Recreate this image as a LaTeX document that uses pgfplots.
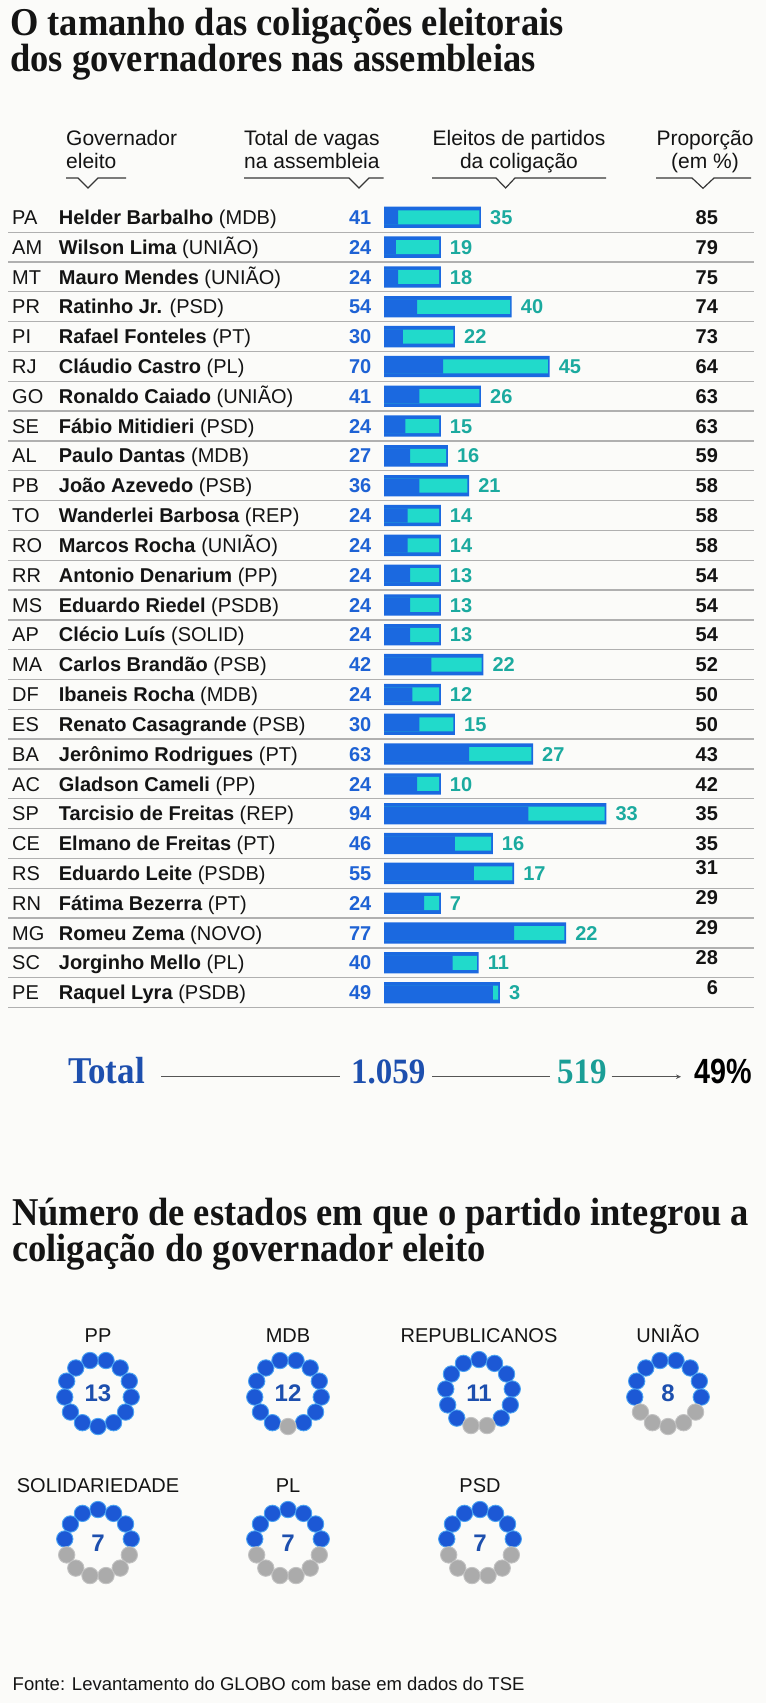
\documentclass[border=0pt]{standalone}
\usepackage{fontspec}
\setmainfont{Liberation Sans}
\newfontfamily\serif{Liberation Serif}
\usepackage{graphicx}
\usepackage{pgfplots}
\pgfplotsset{compat=1.18}
\usepackage{pgfplotstable}
\usetikzlibrary{arrows.meta}

\definecolor{bg}{HTML}{FBFBF9}
\definecolor{barblue}{HTML}{1B69E0}
\definecolor{barteal}{HTML}{21DACB}
\definecolor{numblue}{HTML}{1E62D4}
\definecolor{numteal}{HTML}{1BAA9F}
\definecolor{totblue}{HTML}{1D4FAE}
\definecolor{totteal}{HTML}{1A9E96}
\definecolor{dotblue}{HTML}{1C58D5}
\definecolor{dotedge}{HTML}{4AA3F2}
\definecolor{dotgray}{HTML}{ABABAB}
\definecolor{dotgrayedge}{HTML}{C2C2C2}
\definecolor{sepgray}{HTML}{B0B0B0}
\definecolor{ink}{HTML}{141414}
\definecolor{linegray}{HTML}{555555}

\newcommand\fs[1]{\fontsize{#1bp}{#1bp}\selectfont}
\newcommand\st[1]{\makebox[46.7bp][l]{#1}}
\newcommand\ttl[1]{\scalebox{1}[1.08]{\serif\bfseries\fs{36.5}#1}}

\pgfplotstableread{
row total elected pct
0 41 35 85
1 24 19 79
2 24 18 75
3 54 40 74
4 30 22 73
5 70 45 64
6 41 26 63
7 24 15 63
8 27 16 59
9 36 21 58
10 24 14 58
11 24 14 58
12 24 13 54
13 24 13 54
14 24 13 54
15 42 22 52
16 24 12 50
17 30 15 50
18 63 27 43
19 24 10 42
20 94 33 35
21 46 16 35
22 55 17 31
23 24 7 29
24 77 22 29
25 40 11 28
26 49 3 6
}\govdata

\pgfplotstableread{
name cx cy n
PP 98 1393 13
MDB 288 1393 12
REPUBLICANOS 479 1393 11
UNIÃO 668 1393 8
SOLIDARIEDADE 98 1543 7
PL 288 1543 7
PSD 480 1543 7
}\parties

% dot angles, ordered from the top of the ring downwards
\pgfplotstableread{
k a
0 76.154
1 103.846
2 48.462
3 131.538
4 20.769
5 159.231
6 -6.923
7 186.923
8 -34.615
9 214.615
10 -62.308
11 242.308
12 -90
}\ringEven

\pgfplotstableread{
k a
0 90
1 62.308
2 117.692
3 34.615
4 145.385
5 6.923
6 173.077
7 -20.769
8 200.769
9 -48.462
10 228.462
11 -76.154
12 256.154
}\ringOdd

\pgfplotsset{
  bdot/.style={only marks, mark=*, mark size=8.2bp, mark options={fill=dotblue, draw=dotedge, line width=0.9bp}},
  gdot/.style={only marks, mark=*, mark size=8.2bp, mark options={fill=dotgray, draw=dotgrayedge, line width=0.9bp}},
}

\begin{document}
\begin{tikzpicture}[x=1bp,y=1bp]
\path[use as bounding box, fill=bg] (0,0) rectangle (766,-1703);

% title
\node[anchor=base west, inner sep=0, text=ink] at (10,-35) {\ttl{O tamanho das coligações eleitorais}};
\node[anchor=base west, inner sep=0, text=ink] at (10,-71) {\ttl{dos governadores nas assembleias}};

% column headers
\begin{scope}[every node/.style={inner sep=0, text=ink, font=\fs{21}}]
\node[anchor=base west] at (66,-145) {Governador};
\node[anchor=base west] at (66,-168) {eleito};
\node[anchor=base west] at (244,-145) {Total de vagas};
\node[anchor=base west] at (244,-168) {na assembleia};
\node[anchor=base] at (519,-145) {Eleitos de partidos};
\node[anchor=base] at (519,-168) {da coligação};
\node[anchor=base] at (705,-145) {Proporção};
\node[anchor=base] at (705,-168) {(em \%)};
\end{scope}
\begin{scope}[line width=1.2bp, draw=ink!85]
\draw (66,-178) -- (78,-178) -- (88,-188) -- (98,-178) -- (126,-178);
\draw (244,-178) -- (349,-178) -- (359,-188) -- (369,-178) -- (383.5,-178);
\draw (432,-178) -- (496,-178) -- (505.6,-188) -- (515,-178) -- (606,-178);
\draw (656,-178) -- (692,-178) -- (703,-188.3) -- (714,-178) -- (751,-178);
\end{scope}

% row separators
\foreach \i in {0,...,26}
  \draw[sepgray, line width=1.3bp] (8,{-(232.2+29.82*\i)}) -- (754,{-(232.2+29.82*\i)});

\begin{axis}[
  at={(384bp,-202.4bp)}, anchor=north west,
  scale only axis, width=236.5bp, height=805.14bp,
  xmin=0, xmax=100, ymin=-0.5, ymax=26.5, y dir=reverse,
  clip=false,
  /pgf/number format/assume math mode=true,
  axis line style={draw=none}, major tick length=0pt,
  xtick=\empty, ytick={0,...,26},
  yticklabels={
    {\st{PA}\textbf{Helder Barbalho} (MDB)},
    {\st{AM}\textbf{Wilson Lima} (UNIÃO)},
    {\st{MT}\textbf{Mauro Mendes} (UNIÃO)},
    {\st{PR}\textbf{Ratinho Jr.} (PSD)},
    {\st{PI}\textbf{Rafael Fonteles} (PT)},
    {\st{RJ}\textbf{Cláudio Castro} (PL)},
    {\st{GO}\textbf{Ronaldo Caiado} (UNIÃO)},
    {\st{SE}\textbf{Fábio Mitidieri} (PSD)},
    {\st{AL}\textbf{Paulo Dantas} (MDB)},
    {\st{PB}\textbf{João Azevedo} (PSB)},
    {\st{TO}\textbf{Wanderlei Barbosa} (REP)},
    {\st{RO}\textbf{Marcos Rocha} (UNIÃO)},
    {\st{RR}\textbf{Antonio Denarium} (PP)},
    {\st{MS}\textbf{Eduardo Riedel} (PSDB)},
    {\st{AP}\textbf{Clécio Luís} (SOLID)},
    {\st{MA}\textbf{Carlos Brandão} (PSB)},
    {\st{DF}\textbf{Ibaneis Rocha} (MDB)},
    {\st{ES}\textbf{Renato Casagrande} (PSB)},
    {\st{BA}\textbf{Jerônimo Rodrigues} (PT)},
    {\st{AC}\textbf{Gladson Cameli} (PP)},
    {\st{SP}\textbf{Tarcisio de Freitas} (REP)},
    {\st{CE}\textbf{Elmano de Freitas} (PT)},
    {\st{RS}\textbf{Eduardo Leite} (PSDB)},
    {\st{RN}\textbf{Fátima Bezerra} (PT)},
    {\st{MG}\textbf{Romeu Zema} (NOVO)},
    {\st{SC}\textbf{Jorginho Mello} (PL)},
    {\st{PE}\textbf{Raquel Lyra} (PSDB)}
  },
  yticklabel style={anchor=base west, inner sep=0pt, xshift=-372bp, yshift=-7.1bp, font=\fs{20}, text=ink},
]
% total seats
\addplot[xbar, bar shift=0pt, bar width=21.3bp, fill=barblue, draw=none]
  table[x=total, y=row] {\govdata};
% elected (teal), right-aligned inside the blue bar
\addplot[xbar, bar shift=0pt, bar width=14bp, fill=barteal, draw=none]
  table[x expr=\thisrow{total}-0.7, y=row] {\govdata};
\addplot[xbar, bar shift=0pt, bar width=14.4bp, fill=barblue, draw=none]
  table[x expr=\thisrow{total}-\thisrow{elected}, y=row] {\govdata};
% labels
\addplot[draw=none, mark=none, point meta=explicit, nodes near coords,
  nodes near coords style={anchor=base east, inner sep=0pt, xshift=-12.5bp, yshift=-7.1bp, font=\fs{20}\bfseries, text=numblue}]
  table[x expr=0, y=row, meta=total] {\govdata};
\addplot[draw=none, mark=none, point meta=explicit, nodes near coords,
  nodes near coords style={anchor=base west, inner sep=0pt, xshift=9bp, yshift=-7.1bp, font=\fs{20}\bfseries, text=numteal}]
  table[x=total, y=row, meta=elected] {\govdata};
\addplot[draw=none, mark=none, point meta=explicit, nodes near coords,
  nodes near coords style={anchor=base east, inner sep=0pt, yshift=-7.1bp, font=\fs{20}\bfseries, text=ink}]
  table[x expr=141.3, y expr={\thisrow{row}-(\thisrow{row}>21)*0.19}, meta=pct] {\govdata};
\end{axis}

% total line
\node[anchor=base west, inner sep=0, text=totblue] at (68,-1083) {\scalebox{1}[1.08]{\serif\bfseries\fs{35}Total}};
\draw[linegray, line width=1.1bp] (161,-1076.7) -- (340,-1076.7);
\node[anchor=base west, inner sep=0, text=totblue] at (351,-1083) {\scalebox{1}[1.08]{\serif\bfseries\fs{33}1.059}};
\draw[linegray, line width=1.1bp] (432,-1076.7) -- (549.6,-1076.7);
\node[anchor=base west, inner sep=0, text=totteal] at (557,-1083) {\scalebox{1}[1.08]{\serif\bfseries\fs{33}519}};
\draw[linegray, line width=1.1bp, -{Stealth[length=5bp,width=4.5bp]}] (611.6,-1076.7) -- (681,-1076.7);
\node[anchor=base west, inner sep=0, text=black] at (694,-1083) {\scalebox{0.82}[1]{\bfseries\fs{35}49\%}};

% second title
\node[anchor=base west, inner sep=0, text=ink] at (12,-1225) {\ttl{Número de estados em que o partido integrou a}};
\node[anchor=base west, inner sep=0, text=ink] at (12,-1261) {\ttl{coligação do governador eleito}};

\begin{axis}[
  at={(0bp,-1300bp)}, anchor=north west,
  scale only axis, width=766bp, height=300bp,
  xmin=0, xmax=766, ymin=1300, ymax=1600, y dir=reverse,
  hide axis, clip=false,
  /pgf/number format/assume math mode=true,
]
% PP 13
\addplot[bdot] table[x expr={98+33.5*cos(\thisrow{a})}, y expr={1393-33.5*sin(\thisrow{a})}] {\ringEven};
% MDB 12
\addplot[bdot, skip coords between index={12}{13}] table[x expr={288+33.5*cos(\thisrow{a})}, y expr={1393-33.5*sin(\thisrow{a})}] {\ringEven};
\addplot[gdot, skip coords between index={0}{12}] table[x expr={288+33.5*cos(\thisrow{a})}, y expr={1393-33.5*sin(\thisrow{a})}] {\ringEven};
% REPUBLICANOS 11
\addplot[bdot, skip coords between index={11}{13}] table[x expr={479+33.5*cos(\thisrow{a})}, y expr={1393-33.5*sin(\thisrow{a})}] {\ringOdd};
\addplot[gdot, skip coords between index={0}{11}] table[x expr={479+33.5*cos(\thisrow{a})}, y expr={1393-33.5*sin(\thisrow{a})}] {\ringOdd};
% UNIAO 8
\addplot[bdot, skip coords between index={8}{13}] table[x expr={668+33.5*cos(\thisrow{a})}, y expr={1393-33.5*sin(\thisrow{a})}] {\ringEven};
\addplot[gdot, skip coords between index={0}{8}] table[x expr={668+33.5*cos(\thisrow{a})}, y expr={1393-33.5*sin(\thisrow{a})}] {\ringEven};
% SOLIDARIEDADE 7
\addplot[bdot, skip coords between index={7}{13}] table[x expr={98+33.5*cos(\thisrow{a})}, y expr={1543-33.5*sin(\thisrow{a})}] {\ringOdd};
\addplot[gdot, skip coords between index={0}{7}] table[x expr={98+33.5*cos(\thisrow{a})}, y expr={1543-33.5*sin(\thisrow{a})}] {\ringOdd};
% PL 7
\addplot[bdot, skip coords between index={7}{13}] table[x expr={288+33.5*cos(\thisrow{a})}, y expr={1543-33.5*sin(\thisrow{a})}] {\ringOdd};
\addplot[gdot, skip coords between index={0}{7}] table[x expr={288+33.5*cos(\thisrow{a})}, y expr={1543-33.5*sin(\thisrow{a})}] {\ringOdd};
% PSD 7
\addplot[bdot, skip coords between index={7}{13}] table[x expr={480+33.5*cos(\thisrow{a})}, y expr={1543-33.5*sin(\thisrow{a})}] {\ringOdd};
\addplot[gdot, skip coords between index={0}{7}] table[x expr={480+33.5*cos(\thisrow{a})}, y expr={1543-33.5*sin(\thisrow{a})}] {\ringOdd};
% names and counts
\addplot[draw=none, mark=none, point meta=explicit symbolic, nodes near coords={\pgfplotspointmeta},
  nodes near coords style={anchor=base, inner sep=0pt, yshift=51bp, font=\fs{20}, text=ink}]
  table[x=cx, y=cy, meta=name] {\parties};
\addplot[draw=none, mark=none, point meta=explicit, nodes near coords,
  nodes near coords style={anchor=base, inner sep=0pt, yshift=-8.6bp, font=\fs{24}\bfseries, text=totblue}]
  table[x=cx, y=cy, meta=n] {\parties};
\end{axis}

% source
\node[anchor=base west, inner sep=0, text=ink] at (12.5,-1690) {\fs{18.5}Fonte: Levantamento do GLOBO com base em dados do TSE};
\end{tikzpicture}
\end{document}
